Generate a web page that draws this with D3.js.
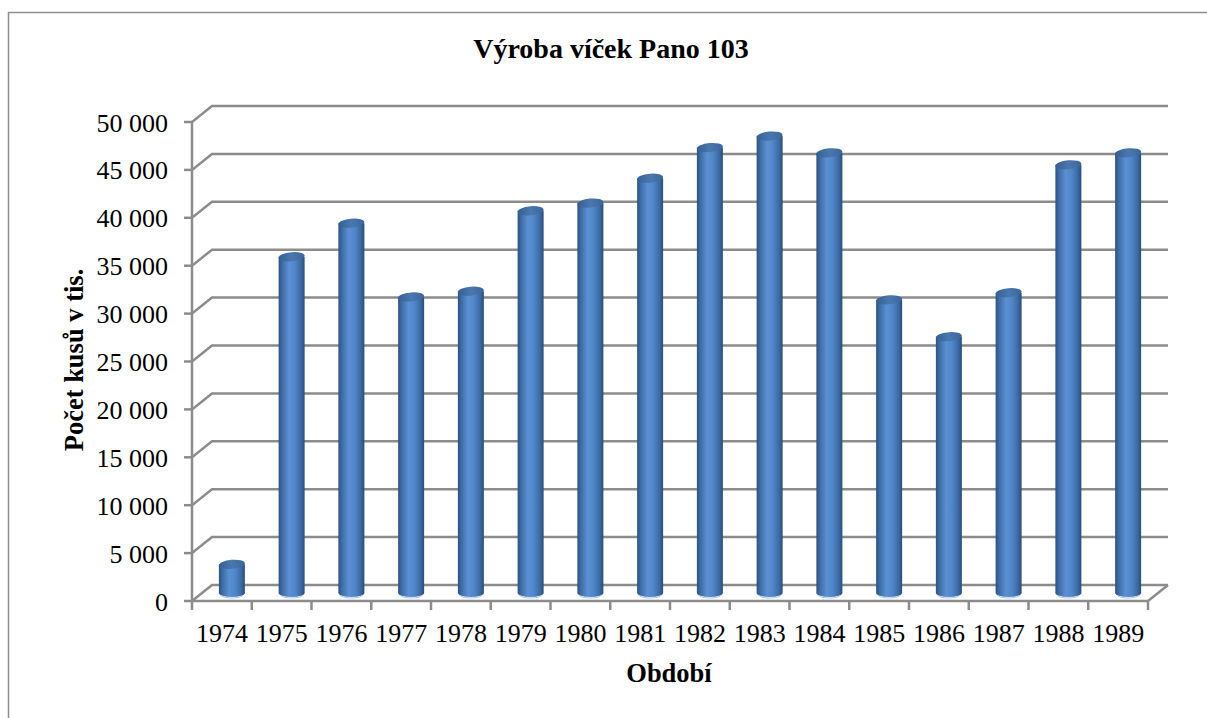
<!DOCTYPE html>
<html>
<head>
<meta charset="utf-8">
<script src="https://cdn.jsdelivr.net/npm/d3@7"></script>
<style>
  body { margin: 0; background: #fff; }
  svg { display: block; }
</style>
</head>
<body>
<svg id="chart" width="1207" height="718"></svg>
<script>
// --- data ---
const years = ["1974", "1975", "1976", "1977", "1978", "1979", "1980", "1981",
               "1982", "1983", "1984", "1985", "1986", "1987", "1988", "1989"];
const pieces = [3000, 35100, 38600, 30900, 31500, 39900, 40700, 43300,
                46500, 47700, 45950, 30600, 26750, 31350, 44700, 45950];
const yTicks = [0, 5000, 10000, 15000, 20000, 25000, 30000, 35000, 40000, 45000, 50000];

const titleText = "Výroba víček Pano 103";
const xTitle = "Období";
const yTitle = "Počet kusů v tis.";

// --- layout ---
const svg = d3.select("#chart");
const plotL = 192, plotR = 1148, plotT = 122, plotB = 601;
const depthX = 20, depthY = -16;   // 3d wall offset
const barW = 26, ryTop = 4.5, ryBot = 4;
const serif = "'Liberation Serif', Tinos, 'Times New Roman', Times, serif";

const x = d3.scaleBand().domain(years).range([plotL, plotR]).padding(0);
const y = d3.scaleLinear().domain([0, 50000]).range([plotB, plotT]);

const fmt = d3.formatLocale({ decimal: ",", thousands: "\u00a0", grouping: [3], currency: ["", ""] }).format(",d");

const grid = "#8c8c8c";

// frame
svg.append("rect")
  .attr("x", 8.5).attr("y", 12.5)
  .attr("width", 1220).attr("height", 730)
  .attr("fill", "none").attr("stroke", "#8e8e8e").attr("stroke-width", 1.5);

// gradients for the cylinders
const defs = svg.append("defs");
const side = defs.append("linearGradient").attr("id", "side")
  .attr("x1", "0%").attr("x2", "100%").attr("y1", "0%").attr("y2", "0%");
[["0%", "#2c5180"], ["14%", "#3e6da6"], ["40%", "#5b90d3"], ["62%", "#5087ca"],
 ["86%", "#3c6aa3"], ["100%", "#2a4d79"]].forEach(s =>
  side.append("stop").attr("offset", s[0]).attr("stop-color", s[1]));
const cap = defs.append("linearGradient").attr("id", "cap")
  .attr("x1", "0%").attr("x2", "100%").attr("y1", "0%").attr("y2", "0%");
[["0%", "#345f92"], ["50%", "#4a78ae"], ["100%", "#3a669a"]].forEach(s =>
  cap.append("stop").attr("offset", s[0]).attr("stop-color", s[1]));

// back wall gridlines + left wall diagonals
const g = svg.append("g").attr("fill", "none").attr("stroke", grid).attr("stroke-width", 2.5);
g.selectAll("path.grid")
  .data(yTicks)
  .enter().append("path")
  .attr("class", "grid")
  .attr("d", d => `M${plotL},${y(d)}L${plotL + depthX},${y(d) + depthY}L${plotR + depthX},${y(d) + depthY}`);

// floor
g.append("path")
  .attr("d", `M${plotL},${plotB}L${plotR},${plotB}L${plotR + depthX},${plotB + depthY}`);

// y axis line
g.append("line")
  .attr("x1", plotL).attr("x2", plotL)
  .attr("y1", plotT).attr("y2", plotB);

// y ticks
g.selectAll("line.yt")
  .data(yTicks)
  .enter().append("line")
  .attr("class", "yt")
  .attr("x1", plotL - 8).attr("x2", plotL)
  .attr("y1", d => y(d)).attr("y2", d => y(d));

// x ticks
const xEdges = years.map(d => x(d)).concat([plotR]);
g.selectAll("line.xt")
  .data(xEdges)
  .enter().append("line")
  .attr("class", "xt")
  .attr("x1", d => d).attr("x2", d => d)
  .attr("y1", plotB).attr("y2", plotB + 9);

// cylinders, set half way back into the depth
const bars = svg.append("g")
  .selectAll("g.bar")
  .data(years.map((yr, i) => ({ yr, v: pieces[i] })))
  .enter().append("g")
  .attr("class", "bar");

const cx = d => x(d.yr) + x.bandwidth() / 2 + depthX / 2;
const base = y(0) + depthY / 2;
const topY = d => y(d.v) + depthY / 2;

bars.append("path")
  .attr("fill", "url(#side)")
  .attr("d", d => {
    const x0 = cx(d) - barW / 2, x1 = cx(d) + barW / 2;
    return `M${x0},${topY(d)}L${x0},${base}A${barW / 2},${ryBot} 0 0 0 ${x1},${base}L${x1},${topY(d)}Z`;
  });

bars.append("path")
  .attr("fill", "none")
  .attr("stroke", "#a9c4e6")
  .attr("stroke-width", 1)
  .attr("d", d => {
    const x0 = cx(d) - barW / 2 + 2, x1 = cx(d) + barW / 2 - 2;
    return `M${x0},${base + 2}A${barW / 2 - 2},${ryBot - 1} 0 0 0 ${x1},${base + 2}`;
  });

bars.append("ellipse")
  .attr("cx", cx).attr("cy", topY)
  .attr("rx", barW / 2).attr("ry", ryTop)
  .attr("fill", "url(#cap)")
  .attr("transform", d => `rotate(-5,${cx(d)},${topY(d)})`);

// tick labels
svg.append("g")
  .selectAll("text")
  .data(yTicks)
  .enter().append("text")
  .attr("x", 168)
  .attr("y", d => y(d) + 9.5)
  .attr("text-anchor", "end")
  .attr("font-family", serif)
  .attr("font-size", 26)
  .text(d => fmt(d));

svg.append("g")
  .selectAll("text")
  .data(years)
  .enter().append("text")
  .attr("x", d => x(d) + x.bandwidth() / 2)
  .attr("y", 641.5)
  .attr("text-anchor", "middle")
  .attr("font-family", serif)
  .attr("font-size", 26)
  .text(d => d);

// titles
svg.append("text")
  .attr("x", 611).attr("y", 58)
  .attr("text-anchor", "middle")
  .attr("font-family", serif)
  .attr("font-size", 28).attr("font-weight", "bold")
  .text(titleText);

svg.append("text")
  .attr("x", 669).attr("y", 681.5)
  .attr("text-anchor", "middle")
  .attr("font-family", serif)
  .attr("font-size", 26.5).attr("font-weight", "bold")
  .text(xTitle);

svg.append("text")
  .attr("transform", "translate(83,360) rotate(-90)")
  .attr("text-anchor", "middle")
  .attr("font-family", serif)
  .attr("font-size", 26.5).attr("font-weight", "bold")
  .text(yTitle);
</script>
</body>
</html>
